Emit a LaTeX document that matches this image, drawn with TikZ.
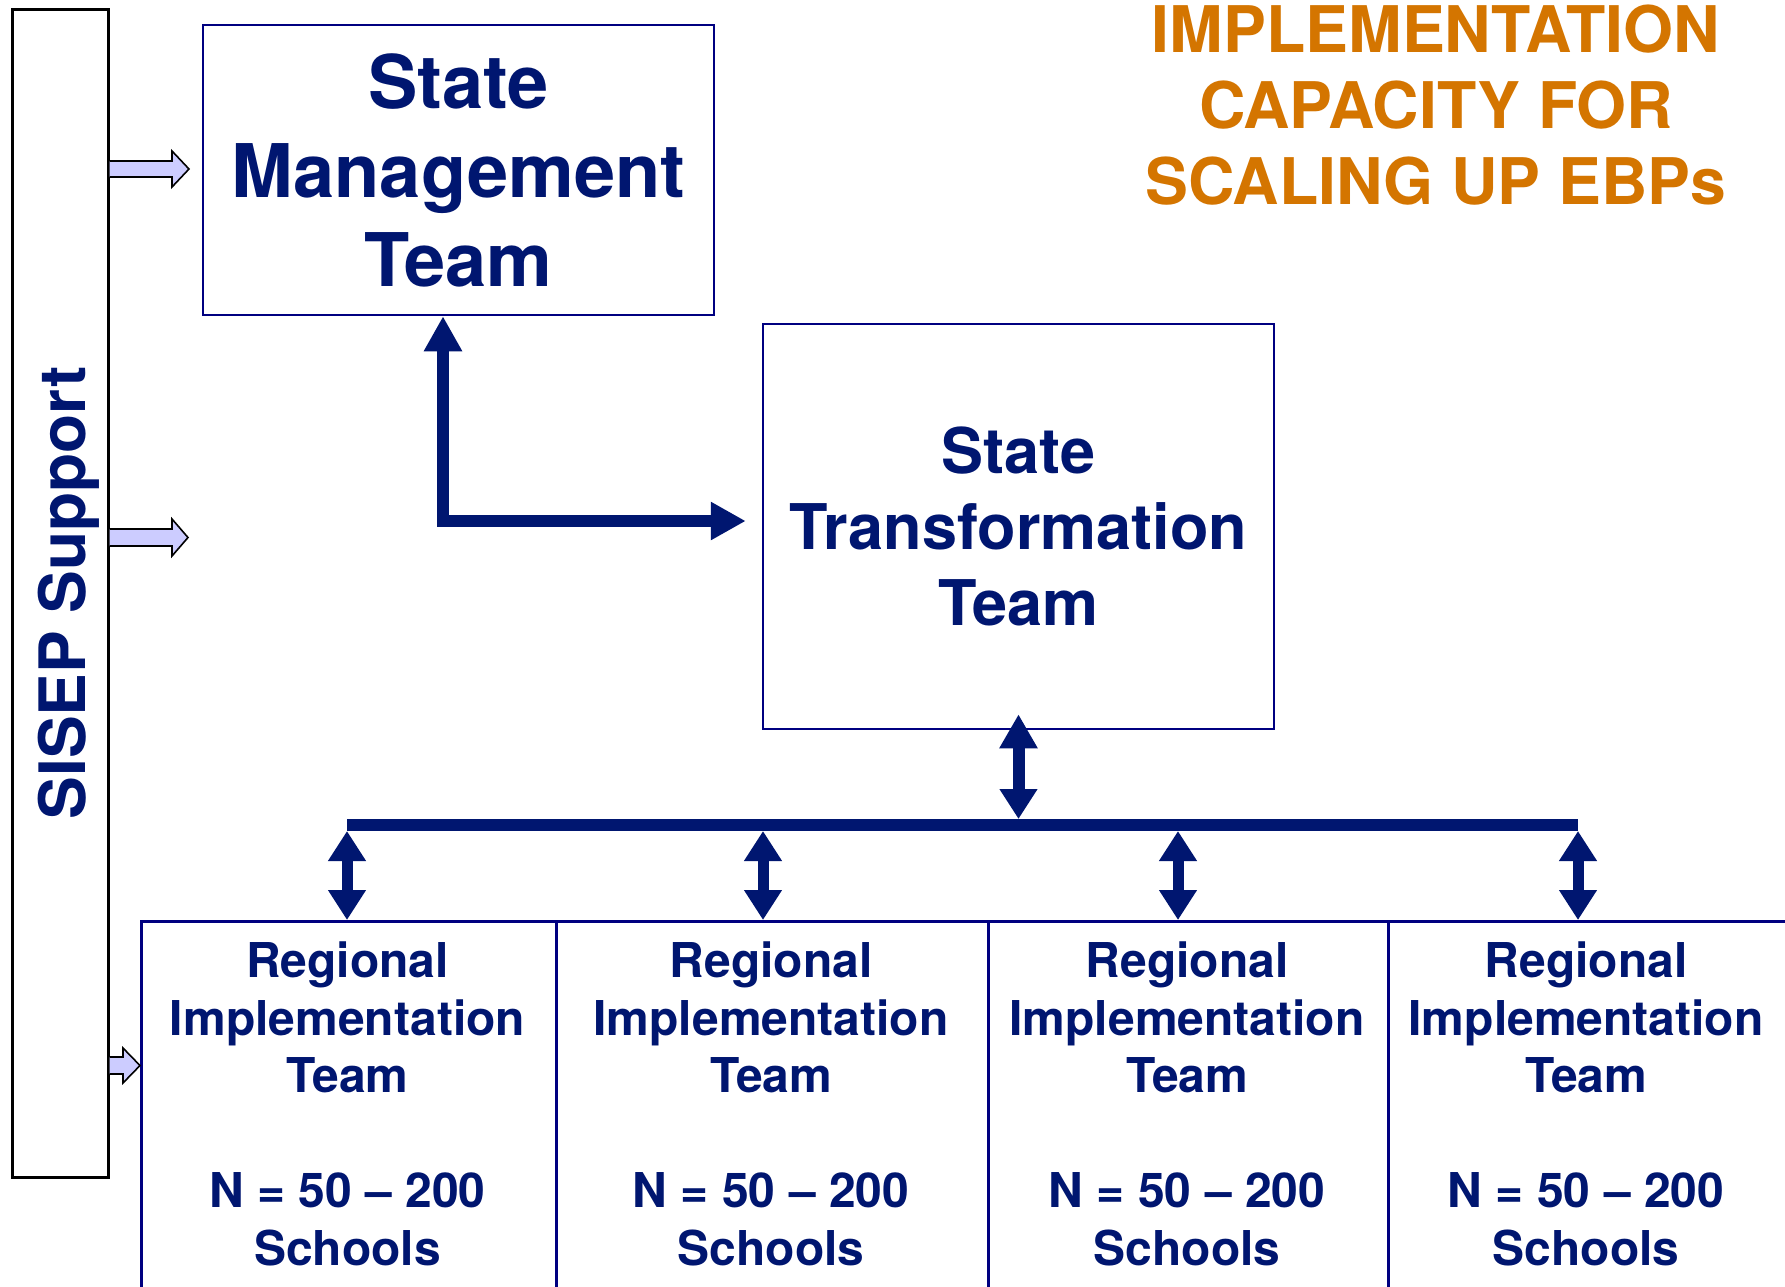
\documentclass[tikz,border=0pt]{standalone}
\usepackage{fontspec}
\setmainfont{TeX Gyre Heros}
\usetikzlibrary{arrows.meta}
\definecolor{navytxt}{RGB}{0,22,112}
\definecolor{navyline}{RGB}{0,0,128}
\definecolor{orangetxt}{RGB}{212,117,0}
\definecolor{lav}{RGB}{204,204,255}
\begin{document}
\begin{tikzpicture}[x=1pt,y=-1pt,
  teambox/.style={draw=navyline, line width=2.5pt, rectangle, inner sep=0pt, align=center, text=navytxt, font=\bfseries},
  regbox/.style={draw=navyline, line width=2.5pt, rectangle, inner sep=0pt, anchor=north west, minimum height=400pt},
  regtext/.style={anchor=north, inner sep=0pt, align=center, text=navytxt, font=\bfseries\fontsize{48}{57.5}\selectfont},
  lavarrow/.style={fill=lav, draw=black, line width=1.6pt, line join=miter},
  bigarrow/.style={draw=navytxt, line width=12pt, line join=miter, {Triangle[length=35pt,width=36pt]}-{Triangle[length=35pt,width=36pt]}},
  dblarrow/.style={draw=navytxt, line width=11pt, {Triangle[length=30pt,width=36pt]}-{Triangle[length=30pt,width=36pt]}},
  stdarrow/.style={draw=navytxt, line width=12pt, {Triangle[length=34pt,width=36pt]}-{Triangle[length=30pt,width=36pt]}}
]
\useasboundingbox[fill=white] (0,0) rectangle (1785,1286);

% SISEP support
\node[draw=black, line width=3pt, rectangle, minimum width=96pt, minimum height=1168pt, inner sep=0pt] (sisep) at (60,593) {};
\node[rotate=90, anchor=base, inner sep=0pt, text=navytxt, font=\bfseries\fontsize{64}{76}\selectfont] (sisept) at (85,593) {SISEP Support};

% State Management Team
\node[teambox, minimum width=511pt, minimum height=290pt, font=\bfseries\fontsize{74}{89}\selectfont] (smt) at (458.5,170) {State\\Management\\Team};

% State Transformation Team
\node[teambox, minimum width=511pt, minimum height=405pt, font=\bfseries\fontsize{63}{76}\selectfont] (stt) at (1018.5,526.5) {State\\Transformation\\Team};

% Title
\node[anchor=north, inner sep=0pt, align=center, text=orangetxt, font=\bfseries\fontsize{64.3}{76}\selectfont] (title) at (1436,4.5) {IMPLEMENTATION\\CAPACITY FOR\\SCALING UP EBPs};

% Regional boxes
\node[regbox, minimum width=415pt] (r1) at (140,920) {};
\node[regbox, minimum width=432pt] (r2) at (555,920) {};
\node[regbox, minimum width=400pt] (r3) at (987,920) {};
\node[regbox, minimum width=400pt] (r4) at (1387,920) {};
\foreach \i/\x in {1/347.5, 2/771, 3/1187, 4/1586} {
  \node[regtext] (t\i) at (\x,942) {Regional\\Implementation\\Team\\[57.5pt]N = 50 – 200\\Schools};
}

% SISEP block arrows
\draw[lavarrow] (sisep.east |- 0,161) -- (172,161) -- (172,151) -- (189,169) -- (172,187) -- (172,177) -- (sisep.east |- 0,177);
\draw[lavarrow] (sisep.east |- 0,529) -- (172,529) -- (172,519) -- (188,537.5) -- (172,556) -- (172,546) -- (sisep.east |- 0,546);
\draw[lavarrow] (sisep.east |- 0,1057) -- (123,1057) -- (123,1048) -- (r1.west |- 0,1065.5) -- (123,1083) -- (123,1074) -- (sisep.east |- 0,1074);

% SMT <-> STT elbow
\coordinate (elb) at (443,521);
\draw[bigarrow] (smt.south -| elb) -- (elb) -- ([xshift=-16pt]stt.west |- elb);

% bus
\coordinate (a1) at (347,825);
\coordinate (a2) at (763,825);
\coordinate (a3) at (1178,825);
\coordinate (a4) at (1578,825);
\draw[draw=navytxt, line width=12pt] (a1) -- (a4);

% STT <-> bus
\draw[stdarrow] ([yshift=16pt]stt.south) -- ([yshift=6pt]stt.south |- a1);

% bus <-> regional teams
\foreach \i in {1,2,3,4} {
  \draw[dblarrow] ([yshift=-6pt]a\i) -- (a\i |- r\i.north);
}
\end{tikzpicture}
\end{document}
